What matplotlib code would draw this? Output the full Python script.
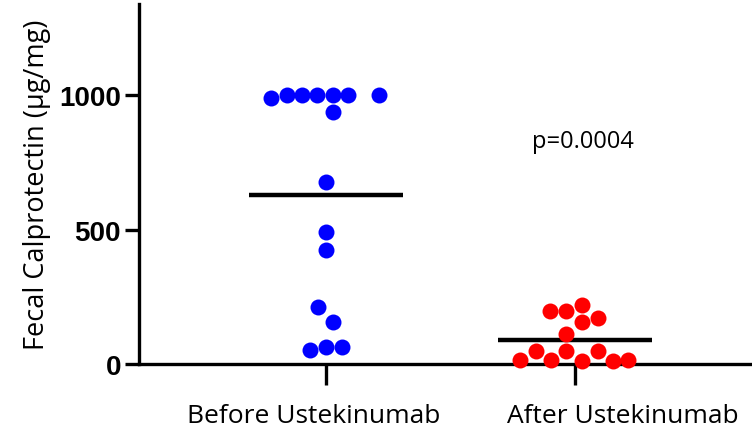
import numpy as np
import matplotlib.pyplot as plt

plt.rcParams['font.family'] = ['Open Sans', 'DejaVu Sans']

# group labels
groups = ['Before Ustekinumab', 'After Ustekinumab']

# fecal calprotectin values (ug/mg) and horizontal swarm offsets
before_vals = [989, 1000, 1000, 1000, 1000, 1000, 1000, 940, 679, 493, 425, 213, 157, 52, 63, 63]
before_off = [-0.22, -0.157, -0.096, -0.036, 0.028, 0.088, 0.213, 0.028, 0, 0, 0, -0.032, 0.028, -0.064, 0, 0.064]

after_vals = [198, 198, 220, 157, 172, 112, 15, 49, 15, 49, 11, 49, 11, 15]
after_off = [-0.1, -0.036, 0.028, 0.028, 0.092, -0.036, -0.22, -0.157, -0.096, -0.036, 0.028, 0.092, 0.153, 0.213]

p_text = 'p=0.0004'

fig = plt.figure(figsize=(7.52, 4.31), dpi=100)
ax = fig.add_axes([0.185, 0.153, 0.815, 0.835])

for i, (vals, offs, col) in enumerate([(before_vals, before_off, '#0000ff'),
                                       (after_vals, after_off, '#ff0000')]):
    x = i + np.array(offs)
    ax.plot(x, vals, 'o', color=col, markersize=11.5, markeredgewidth=0,
            clip_on=False, zorder=3)
    m = np.mean(vals)
    ax.plot([i - 0.31, i + 0.31], [m, m], color='black', lw=3.2,
            solid_capstyle='butt', zorder=2)

ax.text(1.03, 830, p_text, ha='center', va='center', fontsize=17)

ax.set_xlim(-0.75, 1.71)
ax.set_ylim(0, 1340)
ax.set_xticks([0, 1])
ax.set_xticklabels([])
# group labels in the original are nudged off their ticks
for i, (g, dx) in enumerate(zip(groups, [-9, 34])):
    ax.annotate(g, xy=(i, 0), xycoords=('data', 'axes fraction'),
                xytext=(dx, -42), textcoords='offset points',
                ha='center', va='baseline', fontsize=19, annotation_clip=False)
ax.set_yticks([0, 500, 1000])
ax.set_yticklabels(['0', '500', '1000'], fontsize=20, fontweight='bold',
                   family=['Liberation Sans', 'DejaVu Sans'])
ax.set_ylabel('Fecal Calprotectin (µg/mg)', fontsize=19.5, labelpad=6)

for s in ['top', 'right']:
    ax.spines[s].set_visible(False)
for s in ['left', 'bottom']:
    ax.spines[s].set_linewidth(2.4)
ax.tick_params(axis='x', length=15, width=2.4)
ax.tick_params(axis='y', length=10, width=2.4, pad=3)

plt.savefig('out.png', dpi=100)
